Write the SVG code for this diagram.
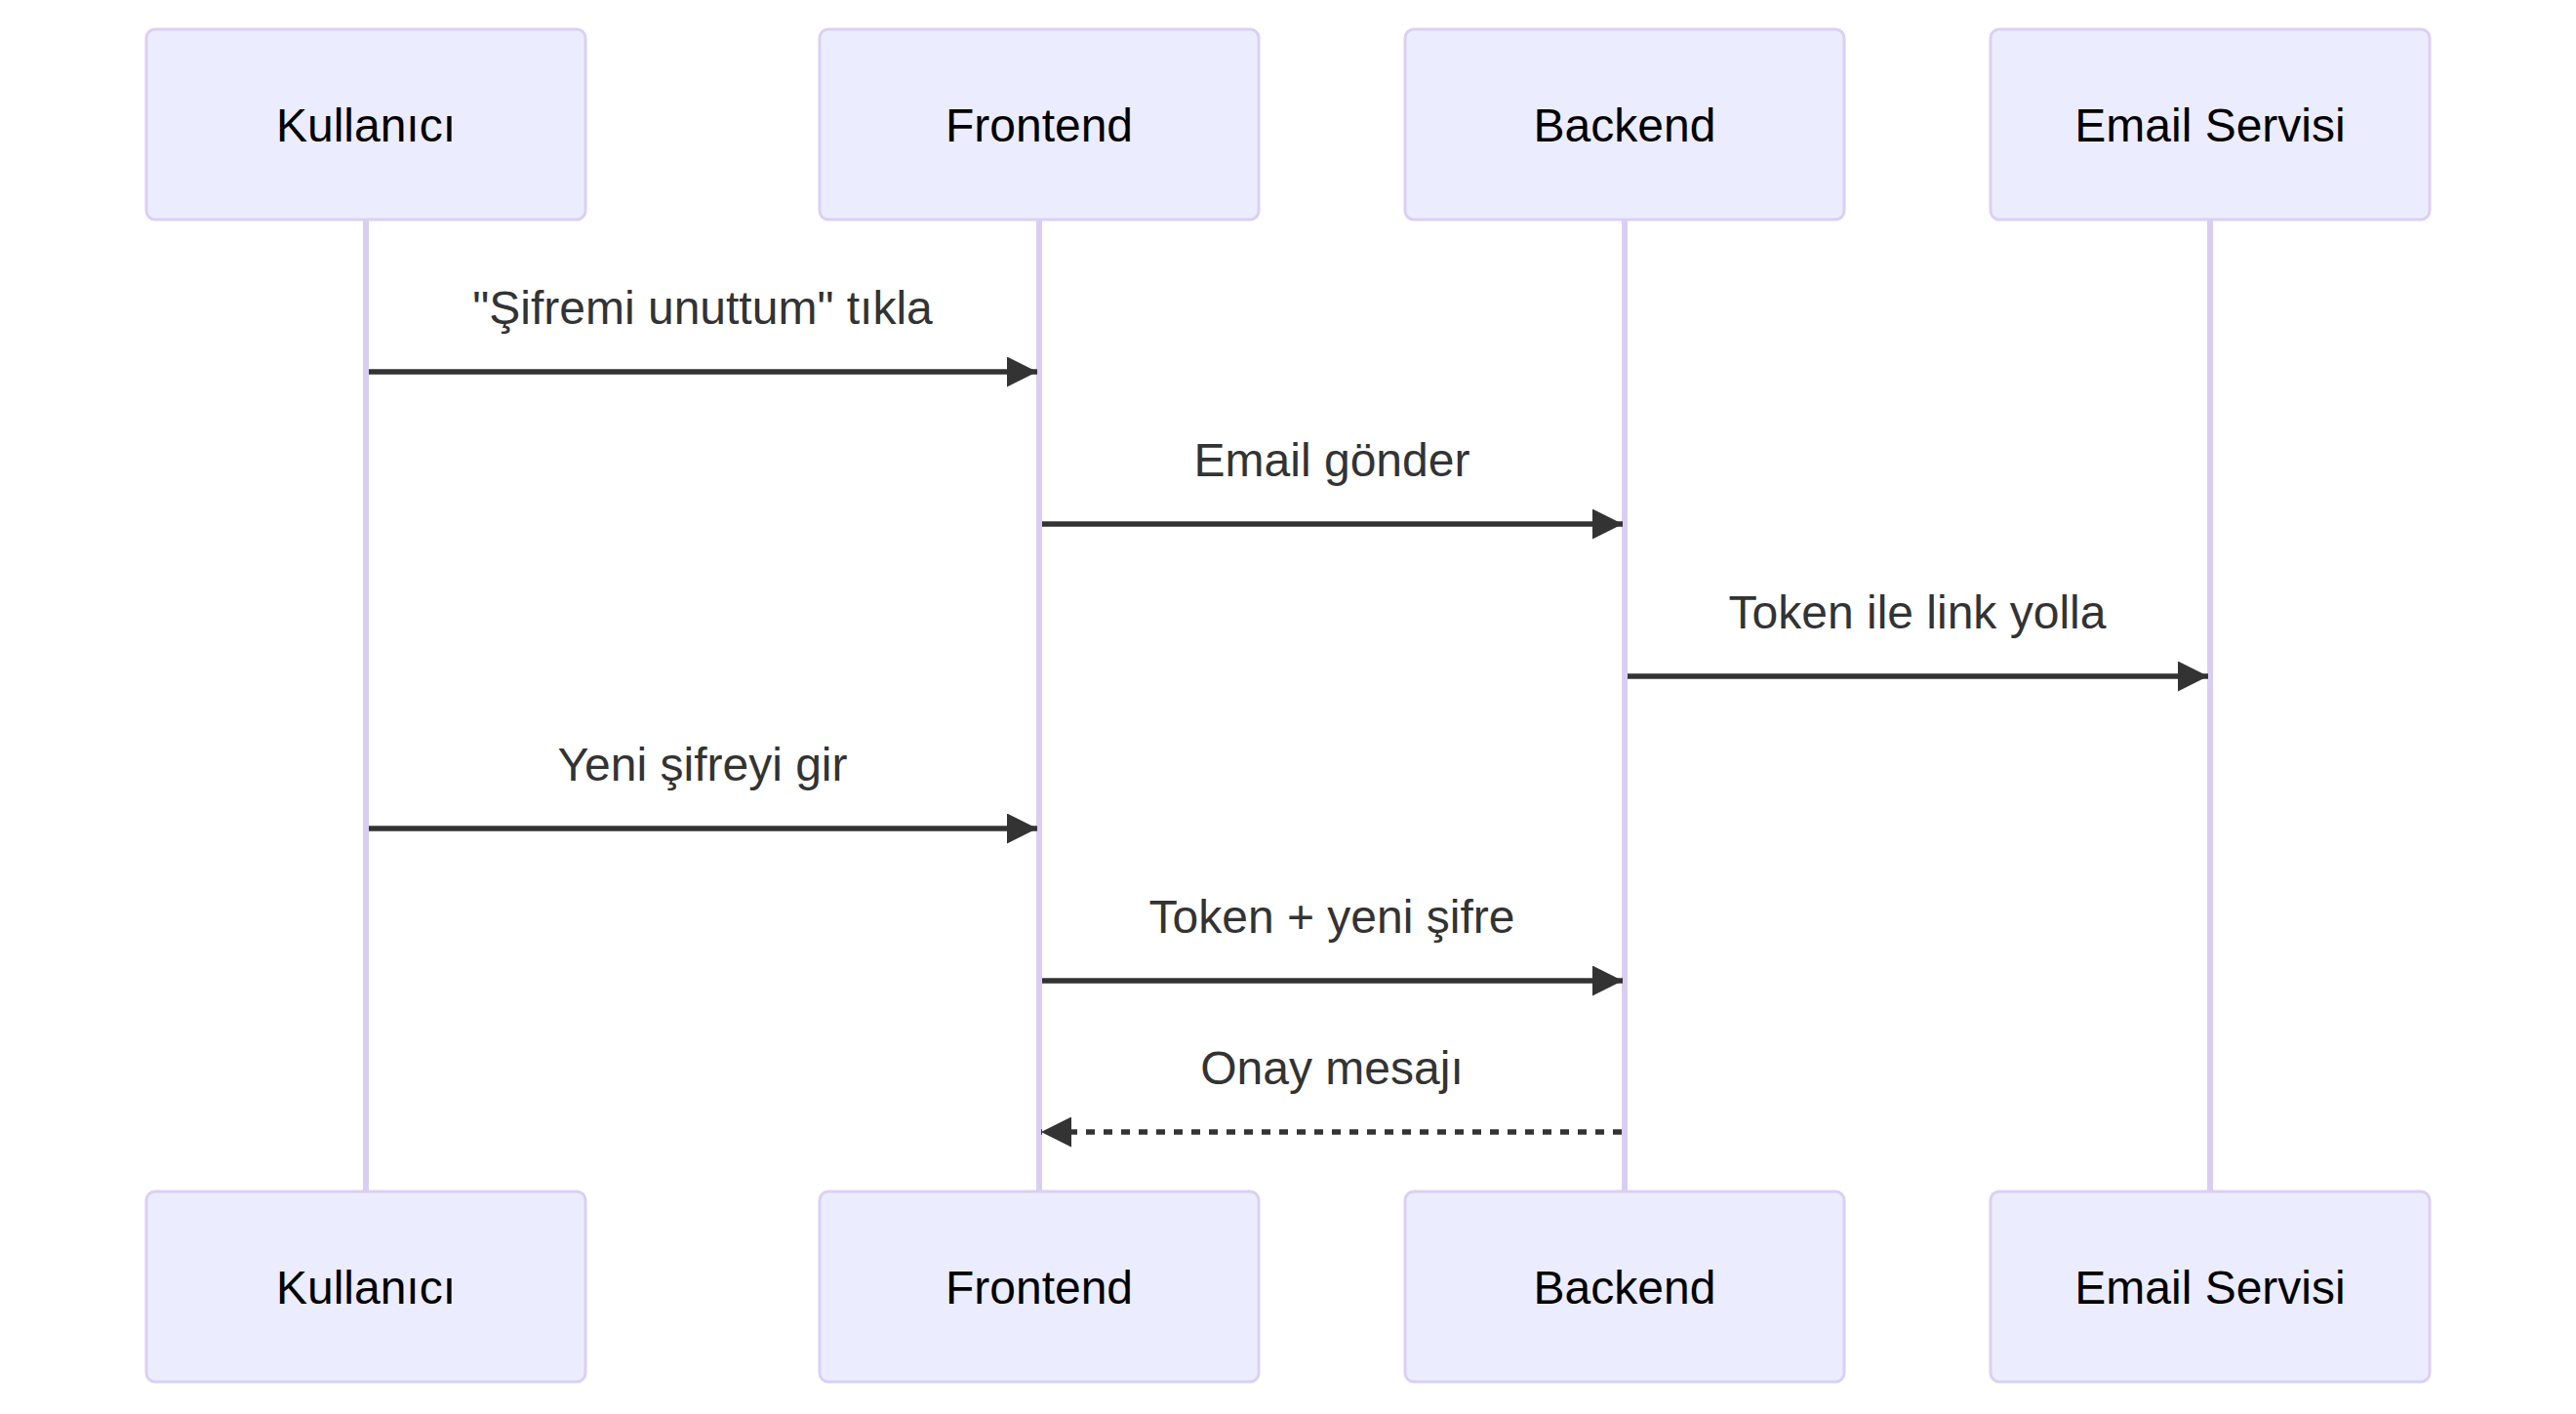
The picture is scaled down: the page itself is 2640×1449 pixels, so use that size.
<svg xmlns="http://www.w3.org/2000/svg" width="2640" height="1449" viewBox="0 0 2640 1449">
<style>
.actor{fill:#ECECFF;stroke:#DBD0F3;stroke-width:3}
.atext{font-family:"Liberation Sans",Arial,sans-serif;font-size:48px;fill:#000;text-anchor:middle}
.life{stroke:#D9CEF2;stroke-width:6}
.msg{stroke:#333;stroke-width:5.5;fill:none}
.dash{stroke-dasharray:9,9}
.mtext{font-family:"Liberation Sans",Arial,sans-serif;font-size:48px;fill:#333;text-anchor:middle}
</style>
<defs>
<marker id="arrow" viewBox="0 0 10 10" markerUnits="userSpaceOnUse" markerWidth="33" markerHeight="31" refX="10" refY="5" orient="auto">
<path d="M0 0 L10 5 L0 10 z" fill="#333"/>
</marker>
</defs>
<rect width="2640" height="1449" fill="#fff"/>
<g id="lifelines">
<line class="life" x1="375" y1="225" x2="375" y2="1220"/>
<line class="life" x1="1065" y1="225" x2="1065" y2="1220"/>
<line class="life" x1="1665" y1="225" x2="1665" y2="1220"/>
<line class="life" x1="2265" y1="225" x2="2265" y2="1220"/>
</g>
<g id="kullanici">
<rect class="actor" x="150" y="30" width="450" height="195" rx="9"/>
<text class="atext" x="375" y="145">Kullanıcı</text>
<rect class="actor" x="150" y="1221" width="450" height="195" rx="9"/>
<text class="atext" x="375" y="1336">Kullanıcı</text>
</g>
<g id="frontend">
<rect class="actor" x="840" y="30" width="450" height="195" rx="9"/>
<text class="atext" x="1065" y="145">Frontend</text>
<rect class="actor" x="840" y="1221" width="450" height="195" rx="9"/>
<text class="atext" x="1065" y="1336">Frontend</text>
</g>
<g id="backend">
<rect class="actor" x="1440" y="30" width="450" height="195" rx="9"/>
<text class="atext" x="1665" y="145">Backend</text>
<rect class="actor" x="1440" y="1221" width="450" height="195" rx="9"/>
<text class="atext" x="1665" y="1336">Backend</text>
</g>
<g id="email">
<rect class="actor" x="2040" y="30" width="450" height="195" rx="9"/>
<text class="atext" x="2265" y="145">Email Servisi</text>
<rect class="actor" x="2040" y="1221" width="450" height="195" rx="9"/>
<text class="atext" x="2265" y="1336">Email Servisi</text>
</g>
<g id="connectors">
<text class="mtext" x="720" y="332">"Şifremi unuttum" tıkla</text>
<line class="msg" x1="378" y1="381" x2="1063" y2="381" marker-end="url(#arrow)"/>
<text class="mtext" x="1365" y="488">Email gönder</text>
<line class="msg" x1="1068" y1="537" x2="1663" y2="537" marker-end="url(#arrow)"/>
<text class="mtext" x="1965" y="644">Token ile link yolla</text>
<line class="msg" x1="1668" y1="693" x2="2263" y2="693" marker-end="url(#arrow)"/>
<text class="mtext" x="720" y="800">Yeni şifreyi gir</text>
<line class="msg" x1="378" y1="849" x2="1063" y2="849" marker-end="url(#arrow)"/>
<text class="mtext" x="1365" y="956">Token + yeni şifre</text>
<line class="msg" x1="1068" y1="1005" x2="1663" y2="1005" marker-end="url(#arrow)"/>
<text class="mtext" x="1365" y="1111">Onay mesajı</text>
<line class="msg dash" x1="1662" y1="1160" x2="1067" y2="1160" marker-end="url(#arrow)"/>
</g>
</svg>
